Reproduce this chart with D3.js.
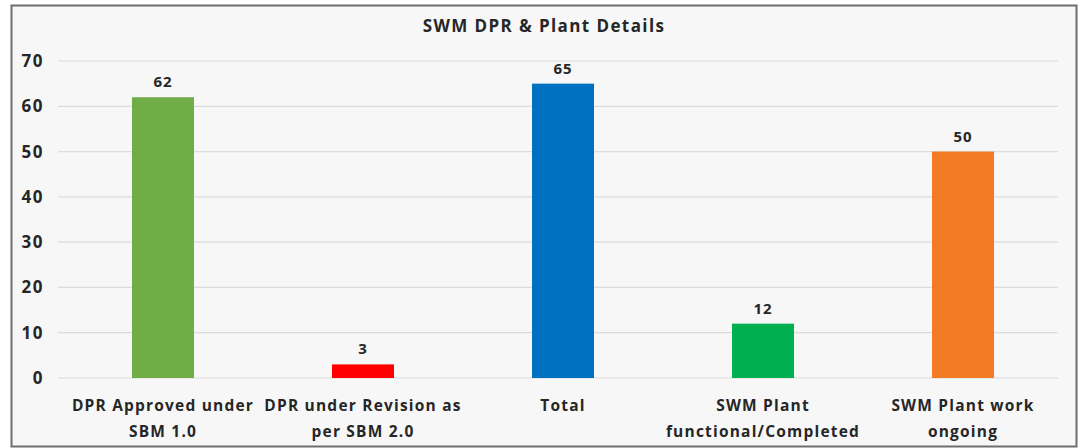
<!DOCTYPE html>
<html><head><meta charset="utf-8">
<script src="https://cdn.jsdelivr.net/npm/d3@7/dist/d3.min.js"></script>
<style>
html,body{margin:0;padding:0;background:#fff;}
svg{display:block;}
text{font-family:"Open Sans","Liberation Sans",sans-serif;}
</style></head>
<body>
<script>
const categories = [
  ["DPR Approved under","SBM 1.0"],
  ["DPR under Revision as","per SBM 2.0"],
  ["Total"],
  ["SWM Plant","functional/Completed"],
  ["SWM Plant work","ongoing"]
];
const values = [62, 3, 65, 12, 50];
const colors = ["#70AD47", "#FF0000", "#0070C0", "#00B050", "#F47B25"];
const yTicks = [0, 10, 20, 30, 40, 50, 60, 70];
const title = "SWM DPR & Plant Details";

const W = 1092, H = 448;
const svg = d3.select("body").append("svg").attr("width", W).attr("height", H);

// chart frame
svg.append("rect").attr("x", 11.5).attr("y", 5.5).attr("width", 1065).attr("height", 441)
  .attr("fill", "#f7f7f7").attr("stroke", "#6e6e6e").attr("stroke-width", 2);

const x = d3.scaleBand().domain(d3.range(values.length)).range([63, 1063])
  .paddingInner(0.69).paddingOuter(0.345);
const y = d3.scaleLinear().domain([0, 70]).range([378, 61]);

// gridlines
svg.append("g").selectAll("line").data(yTicks).join("line")
  .attr("x1", 58).attr("x2", 1058)
  .attr("y1", d => y(d)).attr("y2", d => y(d))
  .attr("stroke", "#dcdcdc").attr("stroke-width", 1.2);

// y axis labels
const yAxis = d3.axisLeft(y).tickValues(yTicks).tickSize(0).tickPadding(0);
const ya = svg.append("g").attr("transform", "translate(44,0)").call(yAxis);
ya.select(".domain").remove();
ya.selectAll("text").attr("font-size", 17).attr("font-weight", "bold").attr("fill", "#262626")
  .attr("letter-spacing", 1.5);

// bars
svg.append("g").selectAll("rect").data(values).join("rect")
  .attr("x", (d, i) => x(i)).attr("width", x.bandwidth())
  .attr("y", d => y(d)).attr("height", d => y(0) - y(d))
  .attr("fill", (d, i) => colors[i]);

// value labels
svg.append("g").selectAll("text").data(values).join("text")
  .attr("x", (d, i) => x(i) + x.bandwidth() / 2)
  .attr("y", d => y(d) - 10)
  .attr("text-anchor", "middle").attr("font-size", 15).attr("font-weight", "bold").attr("fill", "#262626")
  .attr("letter-spacing", 1)
  .text(d => d);

// category labels
const cg = svg.append("g").selectAll("text").data(categories).join("text")
  .attr("text-anchor", "middle").attr("font-size", 15.5).attr("font-weight", "bold").attr("fill", "#262626")
  .attr("letter-spacing", 1.2);
cg.each(function(lines, i) {
  const t = d3.select(this);
  lines.forEach((ln, j) => {
    t.append("tspan").attr("x", x(i) + x.bandwidth() / 2).attr("y", 411 + j * 26).text(ln);
  });
});

// title
svg.append("text").attr("x", 544).attr("y", 32).attr("text-anchor", "middle")
  .attr("font-size", 17).attr("font-weight", "bold").attr("fill", "#262626")
  .attr("letter-spacing", 1.4).text(title);
</script>
</body></html>
